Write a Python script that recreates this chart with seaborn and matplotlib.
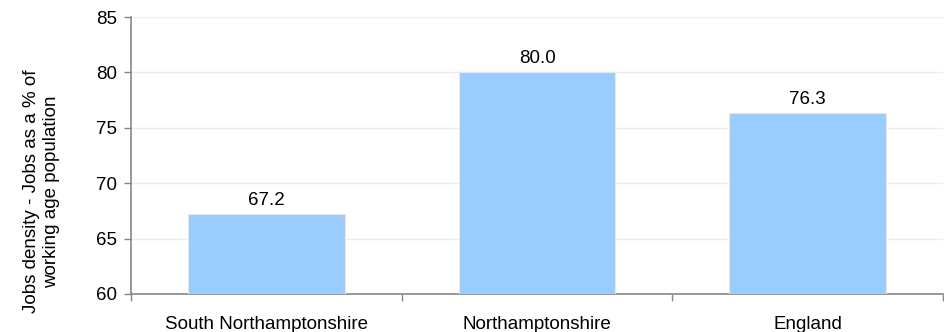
import matplotlib
matplotlib.use("Agg")
import matplotlib.pyplot as plt
import seaborn as sns
import pandas as pd
from matplotlib.ticker import FixedLocator

categories = ["South Northamptonshire", "Northamptonshire", "England"]
values = [67.2, 80.0, 76.3]
yticks = [60, 65, 70, 75, 80, 85]

sns.set_style("white")
plt.rcParams['font.family'] = ['Liberation Sans', 'DejaVu Sans']
plt.rcParams['text.color'] = 'black'
plt.rcParams['axes.labelcolor'] = 'black'
plt.rcParams['xtick.color'] = 'black'
plt.rcParams['ytick.color'] = 'black'

df = pd.DataFrame({"area": categories, "value": values})

fig = plt.figure(figsize=(9.44, 3.32), dpi=100)
ax = fig.add_axes([131/944, 38/332, 812/944, 277/332])

sns.barplot(data=df, x="area", y="value", color="#99CCFF", width=0.58,
            saturation=1, edgecolor="#EDE8DA", linewidth=0.8, ax=ax, zorder=3)

ax.set_ylim(60, 85)
ax.set_xlim(-0.5, 2.5)
ax.set_yticks(yticks)
for y in yticks[1:]:
    ax.axhline(y, color="#EDEDED", lw=1, zorder=0)

for i, v in enumerate(values):
    ax.text(i, v + 0.5, f"{v:.1f}", ha="center", va="bottom", fontsize=13.5, color="#000000")

ax.set_xlabel("")
ax.set_ylabel("Jobs density - Jobs as a % of\nworking age population", fontsize=13.5)
ax.yaxis.set_label_coords(-0.088, 0.37)
ax.tick_params(axis="y", labelsize=13.5, length=5, width=1, color="#868686", direction="out", left=True, pad=5, labelcolor="black")
ax.tick_params(axis="x", which="major", labelsize=13.5, length=0, pad=16, labelcolor="black")
ax.xaxis.set_minor_locator(FixedLocator([-0.5, 0.5, 1.5, 2.5]))
ax.tick_params(axis="x", which="minor", length=5, width=1, color="#868686", direction="out", bottom=True)

for s in ["top", "right"]:
    ax.spines[s].set_visible(False)
for s in ["left", "bottom"]:
    ax.spines[s].set_color("#868686")
    ax.spines[s].set_linewidth(1.2)

fig.savefig("out.png", dpi=100)
